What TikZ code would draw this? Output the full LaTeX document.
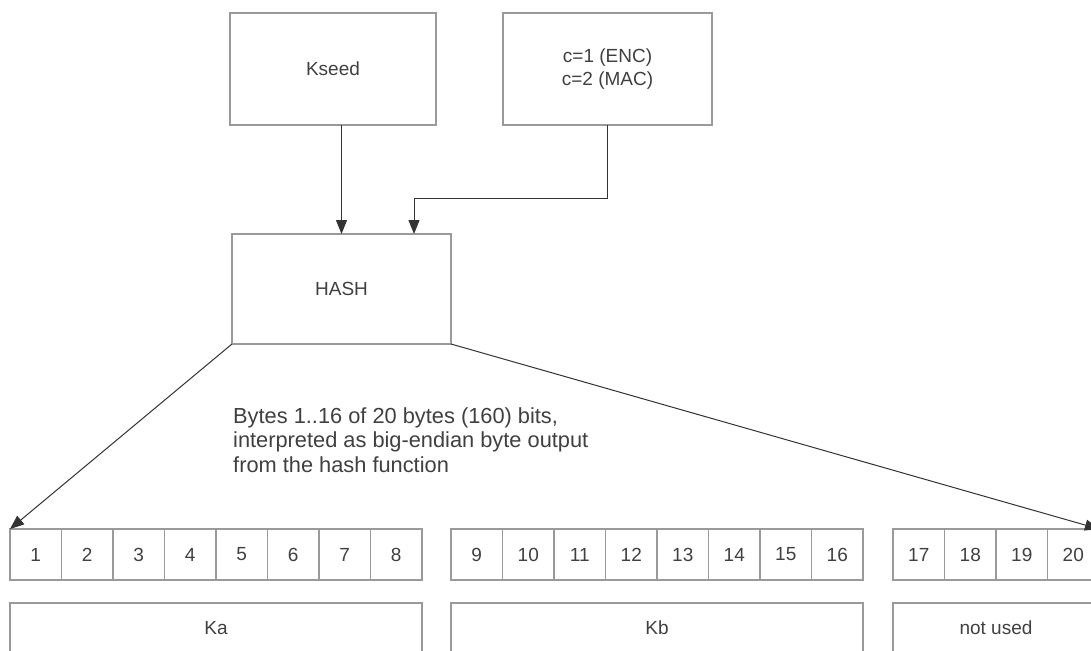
\documentclass[tikz,border=0pt]{standalone}
\usepackage{fontspec}
\setmainfont{Liberation Sans}
\usetikzlibrary{arrows.meta}
\definecolor{boxline}{HTML}{9A9A9A}
\definecolor{arrline}{HTML}{333333}
\definecolor{txt}{HTML}{404040}
\tikzset{
  box/.style={draw=boxline, line width=1.2pt, rectangle, inner sep=0pt, outer sep=0pt,
    anchor=north west, text=txt, font=\fontsize{19}{23}\selectfont, align=center},
  cell/.style={box, minimum width=51.5pt, minimum height=51pt},
  arr/.style={draw=arrline, line width=1pt, -{Triangle[length=14pt,width=11pt]}}
}
\begin{document}
\begin{tikzpicture}[x=1pt,y=-1pt]
\useasboundingbox (0,0) rectangle (1091,650);
\clip (0,0) rectangle (1091,650);
\fill[white] (0,0) rectangle (1091,650);
\node[box, minimum width=206pt, minimum height=112pt] (kseed) at (230,13) {Kseed};
\node[box, minimum width=209pt, minimum height=112pt] (cbox) at (503,13) {c=1 (ENC)\\c=2 (MAC)};
\node[box, minimum width=219pt, minimum height=110pt] (hash) at (232,234) {HASH};
\foreach \i in {1,...,8} {
  \node[cell] (c\i) at ({10+(\i-1)*51.5},529) {\i};
}
\foreach \i in {9,...,16} {
  \node[cell] (c\i) at ({451+(\i-9)*51.5},529) {\i};
}
\foreach \i in {17,...,20} {
  \node[cell] (c\i) at ({893+(\i-17)*51.5},529) {\i};
}
\node[box, minimum width=412pt, minimum height=50pt] (ka) at (10,603) {Ka};
\node[box, minimum width=412pt, minimum height=50pt] (kb) at (451,603) {Kb};
\node[box, minimum width=206pt, minimum height=50pt] (nu) at (893,603) {not used};
\node[anchor=north west, inner sep=0pt, align=left, text=txt,
  font=\fontsize{21.8}{24.5}\selectfont] (note) at (233,407)
  {Bytes 1..16 of 20 bytes (160) bits,\\interpreted as big-endian byte output\\from the hash function};
\coordinate (bend) at (414,198);
\draw[arr] (hash.north |- kseed.south) -- (hash.north);
\draw[arr] (cbox.south) |- (bend) -- (bend |- hash.north);
\draw[arr] (hash.south west) -- (c1.north west);
\draw[arr] (hash.south east) -- (c20.north east);
\end{tikzpicture}
\end{document}
